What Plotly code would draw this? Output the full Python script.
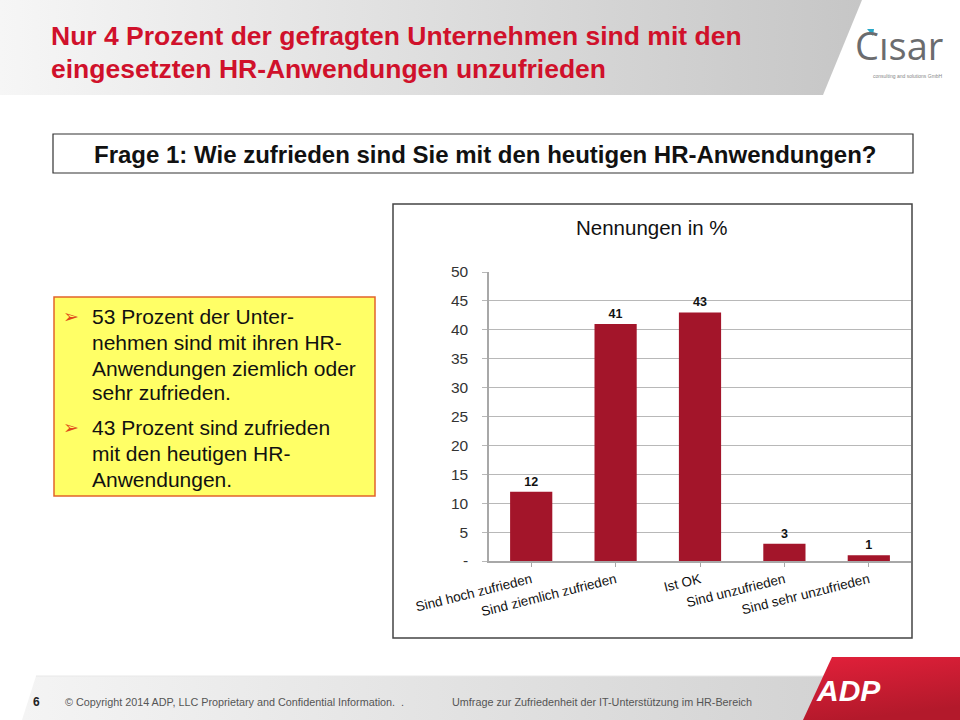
import base64
import plotly.graph_objects as go

W, H = 960, 720

categories = ["Sind hoch zufrieden", "Sind ziemlich zufrieden", "Ist OK",
              "Sind unzufrieden", "Sind sehr unzufrieden"]
values = [12, 41, 43, 3, 1]
y_tickvals = [0, 5, 10, 15, 20, 25, 30, 35, 40, 45, 50]
y_ticktext = ["-", "5", "10", "15", "20", "25", "30", "35", "40", "45", "50"]

title_lines = ["Nur 4 Prozent der gefragten Unternehmen sind mit den",
               "eingesetzten HR-Anwendungen unzufrieden"]
question = "Frage 1: Wie zufrieden sind Sie mit den heutigen HR-Anwendungen?"
chart_title = "Nennungen in %"
box_paragraphs = [
    ["53 Prozent der Unter-", "nehmen sind mit ihren HR-",
     "Anwendungen ziemlich oder", "sehr zufrieden."],
    ["43 Prozent sind zufrieden", "mit den heutigen HR-", "Anwendungen."],
]
footer_left = "© Copyright 2014 ADP, LLC Proprietary and Confidential Information.  ."
footer_right = "Umfrage zur Zufriedenheit der IT-Unterstützung im HR-Bereich"


def px(x):
    return x / W


def py(y):
    return 1 - y / H


FONT = "Arial, Liberation Sans, sans-serif"

svg = f"""<svg xmlns='http://www.w3.org/2000/svg' width='{W}' height='{H}' viewBox='0 0 {W} {H}'>
<defs>
<linearGradient id='hg' x1='0' y1='0' x2='1' y2='0'>
<stop offset='0' stop-color='#F6F6F6'/><stop offset='1' stop-color='#C6C6C6'/></linearGradient>
<linearGradient id='fg' x1='0' y1='0' x2='1' y2='0'>
<stop offset='0' stop-color='#F4F4F4'/><stop offset='1' stop-color='#D2D2D2'/></linearGradient>
<linearGradient id='rg' x1='0' y1='0' x2='0.3' y2='1'>
<stop offset='0' stop-color='#E2203A'/><stop offset='1' stop-color='#B3192B'/></linearGradient>
</defs>
<rect x='0' y='0' width='{W}' height='{H}' fill='white'/>
<polygon points='0,0 862,0 823,95 0,95' fill='url(#hg)'/>
<polygon points='36,676 850,676 830,720 22,720' fill='url(#fg)'/>
<line x1='36' y1='676' x2='850' y2='676' stroke='#E8E8E8' stroke-width='1'/>
<polygon points='832,657 960,657 960,720 803,720' fill='url(#rg)'/>
</svg>"""
img_src = "data:image/svg+xml;base64," + base64.b64encode(svg.encode("utf-8")).decode()

fig = go.Figure()
fig.add_trace(go.Bar(
    x=categories, y=values, marker=dict(color="#A3152A", line=dict(width=0)),
    width=0.5, text=[str(v) for v in values], textposition="outside",
    cliponaxis=False,
    textfont=dict(family=FONT, size=12.5, color="#111111", weight="bold"),
    hoverinfo="skip",
))

# plot area in pixels
pl, pr, pt, pb = 489, 911, 272, 561

shapes = [
    dict(type="rect", xref="paper", yref="paper", x0=px(53), x1=px(913), y0=py(173), y1=py(134),
         line=dict(color="#333333", width=1.2), fillcolor="rgba(0,0,0,0)", layer="below"),
    dict(type="rect", xref="paper", yref="paper", x0=px(393), x1=px(912), y0=py(638), y1=py(204),
         line=dict(color="#444444", width=1.5), fillcolor="white", layer="below"),
    dict(type="rect", xref="paper", yref="paper", x0=px(54), x1=px(375), y0=py(496), y1=py(297),
         line=dict(color="#E2642A", width=1.5), fillcolor="#FFFF66", layer="below"),
    dict(type="path", xref="paper", yref="paper",
         path=f"M {px(867)},{py(29)} L {px(874)},{py(29)} L {px(873)},{py(36)} Z",
         line=dict(width=0), fillcolor="#2AA8C8", layer="above"),
]

annotations = []
for i, line in enumerate(title_lines):
    annotations.append(dict(text=f"<b>{line}</b>", x=px(49), y=py(36 + 33 * i), xref="paper", yref="paper",
                            xanchor="left", yanchor="middle", showarrow=False,
                            font=dict(family=FONT, size=26.5, color="#D0112B")))
annotations.append(dict(text="Cısar", x=px(899), y=py(45), xref="paper", yref="paper",
                        xanchor="center", yanchor="middle", showarrow=False,
                        font=dict(family="Open Sans, Arial, sans-serif", size=38, color="#6B6C6E")))
annotations.append(dict(text="consulting and solutions GmbH", x=px(945), y=py(76), xref="paper", yref="paper",
                        xanchor="right", yanchor="middle", showarrow=False,
                        font=dict(family=FONT, size=5, color="#888888")))
annotations.append(dict(text=f"<b>{question}</b>", x=px(485), y=py(154), xref="paper", yref="paper",
                        xanchor="center", yanchor="middle", showarrow=False,
                        font=dict(family=FONT, size=24, color="#111111")))
annotations.append(dict(text=chart_title, x=px(652), y=py(227), xref="paper", yref="paper",
                        xanchor="center", yanchor="middle", showarrow=False,
                        font=dict(family=FONT, size=20.5, color="#111111")))

line_y = [[316, 342, 368, 393], [427, 453, 479]]
for para, ys in zip(box_paragraphs, line_y):
    annotations.append(dict(text="➢", x=px(61), y=py(ys[0]), xref="paper", yref="paper",
                            xanchor="left", yanchor="middle", showarrow=False,
                            font=dict(family="DejaVu Sans, sans-serif", size=19, color="#E04A1A")))
    for t, yy in zip(para, ys):
        annotations.append(dict(text=t, x=px(90), y=py(yy), xref="paper", yref="paper",
                                xanchor="left", yanchor="middle", showarrow=False,
                                font=dict(family=FONT, size=21, color="#111111")))

annotations.append(dict(text="<b>6</b>", x=px(36), y=py(702), xref="paper", yref="paper",
                        xanchor="center", yanchor="middle", showarrow=False,
                        font=dict(family=FONT, size=12, color="#222222")))
annotations.append(dict(text=footer_left, x=px(63), y=py(702), xref="paper", yref="paper",
                        xanchor="left", yanchor="middle", showarrow=False,
                        font=dict(family=FONT, size=10.8, color="#555555")))
annotations.append(dict(text=footer_right, x=px(450), y=py(702), xref="paper", yref="paper",
                        xanchor="left", yanchor="middle", showarrow=False,
                        font=dict(family=FONT, size=10.8, color="#555555")))
annotations.append(dict(text="<b><i>ADP</i></b>", x=px(848), y=py(690), xref="paper", yref="paper",
                        xanchor="center", yanchor="middle", showarrow=False,
                        font=dict(family=FONT, size=30, color="white")))

fig.update_layout(
    width=W, height=H,
    margin=dict(l=0, r=0, t=0, b=0, autoexpand=False),
    paper_bgcolor="white",
    plot_bgcolor="rgba(0,0,0,0)",
    showlegend=False,
    images=[dict(source=img_src, xref="paper", yref="paper", x=0, y=1, sizex=1, sizey=1,
                 xanchor="left", yanchor="top", sizing="stretch", layer="below")],
    shapes=shapes,
    annotations=annotations,
    xaxis=dict(domain=[px(pl), px(pr)], automargin=False, showgrid=False, showline=True,
               linecolor="#A8A8A8", linewidth=1.5,
               ticks="outside", ticklen=4, tickcolor="#A8A8A8", tickangle=-14,
               tickfont=dict(family=FONT, size=13.5, color="#111111"), fixedrange=True),
    yaxis=dict(domain=[py(pb), py(pt)], automargin=False, range=[0, 50],
               tickvals=y_tickvals, ticktext=y_ticktext,
               showgrid=True, gridcolor="#B8B8B8", gridwidth=1, zeroline=False,
               showline=True, linecolor="#A8A8A8", linewidth=1.5,
               ticks="outside", ticklen=5, tickcolor="#B8B8B8", ticklabelstandoff=11,
               tickfont=dict(family=FONT, size=15.5, color="#333333"), fixedrange=True),
    bargap=0.5,
)

fig.write_html("out.html")
